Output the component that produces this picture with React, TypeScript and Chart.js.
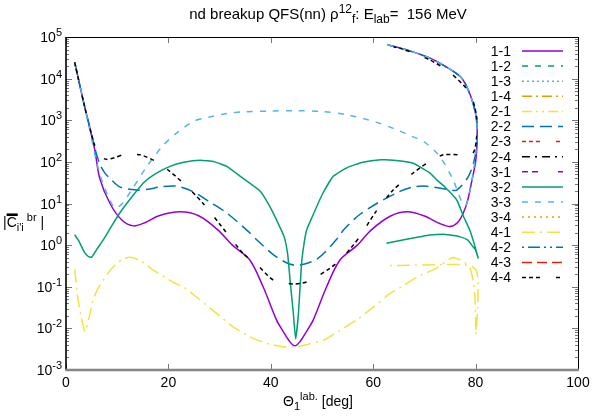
import React, { useEffect, useRef } from "react";
import { Chart, registerables } from "chart.js";

Chart.register(...registerables);

// ---------- axis ticks ----------
const xTickValues = [0, 20, 40, 60, 80, 100];
const yTickExponents = [-3, -2, -1, 0, 1, 2, 3, 4, 5];
const yMinorMultipliers = [2, 3, 4, 5, 6, 7, 8, 9];

// ---------- series labels ----------
const seriesLabels = [
  "1-1", "1-2", "1-3", "1-4",
  "2-1", "2-2", "2-3", "2-4",
  "3-1", "3-2", "3-3", "3-4",
  "4-1", "4-2", "4-3", "4-4",
];

// ---------- data (theta_1 [deg], |C|) ----------
const s11x = [1.7, 2.5, 3.5, 4.5, 5.6, 6.6, 8.6, 10.9, 13.2, 15.5, 18, 22.3, 26, 29.7, 32.5, 35.9, 38.5, 41.1, 42.4, 43.7, 44.7, 45.7, 47.0, 48.3, 50.9, 53.5, 56.9, 59.6, 63.4, 66.7, 70, 73, 75, 76.5, 77.6, 78.5, 79.3, 80.0, 80.3, 80.2, 79.5, 78.3, 77, 74, 71.1, 67, 62.8];
const s11y = [24500, 8900, 2500, 790, 200, 40, 10, 4.0, 2.9, 3.5, 5.0, 6.3, 5.0, 2.3, 1.0, 0.44, 0.1, 0.016, 0.0085, 0.0048, 0.0038, 0.0048, 0.0085, 0.016, 0.1, 0.44, 1.0, 2.3, 5.0, 6.3, 5.0, 3.3, 2.8, 3.5, 5.9, 12.6, 37, 100, 316, 1000, 2570, 6300, 11200, 20000, 31000, 47000, 65000];

const s22x = [1.7, 2.5, 3.5, 4.5, 5.6, 6.6, 7.5, 8.6, 10.5, 13.8, 16, 18.4, 21.6, 24.9, 28, 31.4, 35.3, 37.5, 41.1, 44.7, 49, 52.9, 54.2, 57, 60.7, 65.2, 67.8, 70.4, 74.4, 76.3, 78.6, 79.9, 80.3, 80.1, 79.5, 78.3, 77, 74, 71.1, 67, 62.8];
const s22y = [24500, 8900, 2500, 790, 220, 89, 56, 40, 25, 21, 22, 25, 26, 19, 11, 5.9, 2.3, 1.26, 0.52, 0.33, 0.46, 1.4, 2.3, 5.0, 10, 19.5, 25, 26, 22, 21, 45, 135, 500, 1260, 2570, 6300, 11200, 20000, 31000, 47000, 65000];

const s32x = [1.7, 2.5, 3.5, 4.3, 5.0, 6, 7.3, 8.7, 10.5, 12.5, 15.1, 17.5, 20.3, 23, 26.2, 29, 31.4, 34.6, 37.9, 39.8, 41.5, 42.6, 43.3, 43.75, 44.4, 44.85, 45.4, 46, 46.5, 47, 48, 50, 52.2, 55, 58, 61.5, 64, 67.8, 71.1, 72.4, 74, 76.3, 77.6, 78.9, 79.8, 80.5, 80, 79.5, 78.5, 77, 75, 73.7, 71, 69.1, 66, 62.6];
const s32y = [1.78, 1.26, 0.71, 0.54, 0.51, 0.79, 1.35, 2.6, 5.9, 12.6, 31, 52, 78, 98, 110, 100, 78, 40, 20, 8.5, 3.2, 1.6, 0.6, 0.15, 0.023, 0.0056, 0.023, 0.36, 1.1, 2.3, 4.5, 16, 45, 74, 98, 112, 110, 93, 54, 37, 25, 12.3, 5.0, 2.24, 1.0, 0.49, 0.76, 0.91, 1.32, 1.58, 1.74, 1.82, 1.74, 1.58, 1.35, 1.11];

const s33x = [1.7, 2.5, 3.5, 4.5, 5.5, 6.4, 7.3, 8.5, 9.6, 11, 12.8, 15.8, 19, 21.6, 25, 28.1, 31.4, 35, 39.8, 44.7, 50, 55, 60.7, 64, 67.8, 70, 73, 75.6, 77.3, 78.1, 78.9, 79.6, 80.1, 80.3, 80.1, 79.5, 78.3, 77, 74, 71.1, 67, 62.8];
const s33y = [24500, 8900, 2500, 710, 180, 63, 28, 12.6, 7.8, 10, 21, 78, 250, 490, 950, 1200, 1450, 1600, 1660, 1700, 1620, 1350, 890, 630, 400, 300, 135, 37, 11, 8.9, 20, 63, 200, 590, 1260, 2570, 6300, 11200, 20000, 31000, 47000, 65000];

const s41x = [1.7, 2.3, 3.0, 3.7, 4.4, 5.3, 6.2, 7.3, 8.5, 9.9, 11, 12.5, 14.5, 17.1, 21, 22.9, 26, 29.4, 32.5, 35.9, 39, 42.4, 45, 47.5, 50.3, 53.5, 56.8, 60, 63.3, 65.9, 68.5, 72.4, 75, 75.8, 77.5, 78.9, 79.6, 79.9, 80.1, 80.4, 80.5, 80.1, 79, 77, 72.4, 67, 62.6];
const s41y = [0.26, 0.055, 0.018, 0.0083, 0.016, 0.048, 0.089, 0.145, 0.24, 0.36, 0.46, 0.51, 0.43, 0.25, 0.126, 0.1, 0.05, 0.023, 0.0112, 0.0063, 0.0044, 0.0036, 0.0036, 0.0042, 0.0052, 0.0089, 0.016, 0.032, 0.069, 0.105, 0.17, 0.28, 0.47, 0.5, 0.42, 0.28, 0.126, 0.05, 0.0071, 0.032, 0.145, 0.25, 0.32, 0.34, 0.34, 0.33, 0.32];

const s44x = [1.7, 2.5, 3.5, 4.5, 5.6, 6.5, 7.9, 9.5, 11.2, 14.5, 17.7, 20, 22.9, 26.8, 31.4, 34.6, 37.5, 40.5, 44.4, 47, 51.6, 54, 56.1, 57.4, 60.5, 63.9, 67.8, 70.4, 73.7, 77, 79.5, 80.2, 80.2, 78.9, 75, 71.1, 65.2, 64];
const s44y = [24500, 8900, 2500, 790, 250, 140, 115, 126, 148, 148, 100, 63, 31, 10, 1.95, 0.63, 0.32, 0.145, 0.117, 0.13, 0.28, 0.5, 1.0, 1.6, 6.3, 21, 54, 91, 148, 148, 162, 400, 1230, 4470, 14000, 28000, 54000, 57500];

const emptyX: number[] = [];
const emptyY: number[] = [];

const seriesX = [s11x, emptyX, emptyX, emptyX, emptyX, s22x, emptyX, emptyX, emptyX, s32x, s33x, emptyX, s41x, emptyX, emptyX, s44x];
const seriesY = [s11y, emptyY, emptyY, emptyY, emptyY, s22y, emptyY, emptyY, emptyY, s32y, s33y, emptyY, s41y, emptyY, emptyY, s44y];

// ---------- styles ----------
const PURPLE = "#9400d3";
const GREEN = "#009e73";
const SKY = "#56b4e9";
const ORANGE = "#e69f00";
const YELLOW = "#f0e442";
const BLUE = "#0072b2";
const RED = "#e51e10";
const BLACK = "#000000";

const seriesColors = [PURPLE, GREEN, SKY, ORANGE, YELLOW, BLUE, RED, BLACK, PURPLE, GREEN, SKY, ORANGE, YELLOW, BLUE, RED, BLACK];
const seriesDash: number[][] = [
  [],
  [6, 7],
  [2, 3],
  [10, 4, 2, 4],
  [10, 4, 2, 4, 2, 4],
  [12, 6],
  [4, 3, 4, 3, 4, 16],
  [8, 5, 2, 5],
  [6, 4, 6, 20],
  [],
  [6, 7],
  [2, 4],
  [13, 5, 2, 5],
  [2, 4, 12, 4, 2, 4],
  [10, 5],
  [4, 3, 4, 3, 4, 16],
];
const seriesTension = [0.3, 0, 0, 0, 0, 0.3, 0, 0, 0, 0.15, 0.3, 0, 0.15, 0, 0, 0.25];

const FONT_FAMILY = '"Liberation Sans", Arial, Helvetica, sans-serif';
const BASE = 14;

type Kind = "n" | "sup" | "sub" | "over";
type Part = [string, Kind];

function partFont(kind: Kind, base: number) {
  const size = kind === "sup" || kind === "sub" ? Math.round(base * 0.78) : base;
  return `${size}px ${FONT_FAMILY}`;
}

function measureParts(ctx: CanvasRenderingContext2D, parts: Part[], base: number) {
  let w = 0;
  for (const [t, k] of parts) {
    ctx.font = partFont(k, base);
    w += ctx.measureText(t).width;
  }
  return w;
}

function drawParts(
  ctx: CanvasRenderingContext2D,
  parts: Part[],
  x: number,
  y: number,
  base: number,
  align: "left" | "center" | "right"
) {
  const w = measureParts(ctx, parts, base);
  let cx = align === "right" ? x - w : align === "center" ? x - w / 2 : x;
  ctx.textAlign = "left";
  ctx.textBaseline = "alphabetic";
  for (const [t, k] of parts) {
    ctx.font = partFont(k, base);
    const dy = k === "sup" ? -base * 0.42 : k === "sub" ? base * 0.28 : 0;
    ctx.fillText(t, cx, y + dy);
    const tw = ctx.measureText(t).width;
    if (k === "over") {
      ctx.fillRect(cx, y - base * 0.72 - 3.5, tw + 1, 2.6);
    }
    cx += tw;
  }
}

const titleParts: Part[] = [
  ["nd breakup QFS(nn) \u03c1", "n"],
  ["12", "sup"],
  ["f", "sub"],
  [": E", "n"],
  ["lab", "sub"],
  ["=  156 MeV", "n"],
];
const yLabelParts: Part[] = [
  ["|", "n"],
  ["C", "over"],
  ["i'i", "sub"],
  [" br", "sup"],
  [" |", "n"],
];
const xLabelParts: Part[] = [
  ["\u0398", "n"],
  ["1", "sub"],
  ["lab.", "sup"],
  [" [deg]", "n"],
];

const decorPlugin = {
  id: "decor",
  afterDraw(chart: any) {
    const ctx: CanvasRenderingContext2D = chart.ctx;
    const { left, right, top, bottom } = chart.chartArea;
    const xs = chart.scales.x;
    const ys = chart.scales.y;
    ctx.save();
    ctx.setLineDash([]);

    // ticks
    ctx.strokeStyle = "#777777";
    ctx.lineWidth = 1;
    ctx.beginPath();
    for (const e of yTickExponents) {
      const base = Math.pow(10, e);
      const py = Math.round(ys.getPixelForValue(base)) + 0.5;
      ctx.moveTo(left, py);
      ctx.lineTo(left + 6, py);
      ctx.moveTo(right, py);
      ctx.lineTo(right - 6, py);
      if (e < yTickExponents[yTickExponents.length - 1]) {
        for (const m of yMinorMultipliers) {
          const my = Math.round(ys.getPixelForValue(m * base)) + 0.5;
          ctx.moveTo(left, my);
          ctx.lineTo(left + 3, my);
          ctx.moveTo(right, my);
          ctx.lineTo(right - 3, my);
        }
      }
    }
    for (const v of xTickValues) {
      const px = Math.round(xs.getPixelForValue(v)) + 0.5;
      ctx.moveTo(px, bottom);
      ctx.lineTo(px, bottom - 6);
      ctx.moveTo(px, top);
      ctx.lineTo(px, top + 6);
    }
    ctx.stroke();

    // borders
    ctx.strokeStyle = "#000000";
    ctx.lineWidth = 1;
    ctx.beginPath();
    ctx.moveTo(left, Math.round(top) + 0.5);
    ctx.lineTo(right, Math.round(top) + 0.5);
    ctx.moveTo(Math.round(right) + 0.5, top);
    ctx.lineTo(Math.round(right) + 0.5, bottom);
    ctx.stroke();
    ctx.lineWidth = 1.6;
    ctx.beginPath();
    ctx.moveTo(left, top);
    ctx.lineTo(left, bottom);
    ctx.stroke();
    ctx.strokeStyle = "#858585";
    ctx.lineWidth = 2.6;
    ctx.beginPath();
    ctx.moveTo(left - 0.8, bottom);
    ctx.lineTo(right + 1, bottom);
    ctx.stroke();

    // tick labels
    ctx.fillStyle = "#000000";
    for (const e of yTickExponents) {
      const py = ys.getPixelForValue(Math.pow(10, e));
      drawParts(ctx, [["10", "n"], [String(e), "sup"]], left - 4, py + 5, BASE, "right");
    }
    ctx.font = `${BASE}px ${FONT_FAMILY}`;
    ctx.textAlign = "center";
    ctx.textBaseline = "alphabetic";
    for (const v of xTickValues) {
      const px = xs.getPixelForValue(v);
      ctx.fillText(String(v), px, bottom + 17);
    }

    // title and axis titles
    drawParts(ctx, titleParts, (left + right) / 2 + 6, 19, 15, "center");
    drawParts(ctx, yLabelParts, 3, 227, BASE, "left");
    drawParts(ctx, xLabelParts, (left + right) / 2 - 4, 406, BASE, "center");

    // key
    const keyTextRight = 511;
    const keyLineX0 = 522;
    const keyLineX1 = 563;
    const keyTop = 51;
    const keyStep = 15.1;
    chart.data.datasets.forEach((ds: any, i: number) => {
      const y = keyTop + i * keyStep;
      ctx.fillStyle = "#000000";
      ctx.font = `${BASE}px ${FONT_FAMILY}`;
      ctx.textAlign = "right";
      ctx.textBaseline = "middle";
      ctx.fillText(ds.label, keyTextRight, y + 1);
      ctx.strokeStyle = ds.borderColor;
      ctx.lineWidth = 1.5;
      ctx.setLineDash(ds.borderDash || []);
      ctx.beginPath();
      ctx.moveTo(keyLineX0, y);
      ctx.lineTo(keyLineX1, y);
      ctx.stroke();
    });
    ctx.restore();
  },
};

export default function App() {
  const canvasRef = useRef<HTMLCanvasElement | null>(null);

  useEffect(() => {
    document.body.style.margin = "0";
    const canvas = canvasRef.current;
    if (!canvas) return;
    const datasets = seriesLabels.map((label, i) => ({
      label,
      data: seriesX[i].map((x, j) => ({ x, y: seriesY[i][j] })),
      showLine: true,
      borderColor: seriesColors[i],
      backgroundColor: seriesColors[i],
      borderDash: seriesDash[i],
      borderWidth: 1.5,
      pointRadius: 0,
      pointHoverRadius: 0,
      fill: false,
      tension: seriesTension[i],
      order: seriesLabels.length - i,
    }));
    const chart = new Chart(canvas, {
      type: "scatter",
      data: { datasets },
      options: {
        animation: false,
        responsive: false,
        devicePixelRatio: 1,
        layout: { padding: { left: 66, top: 37, right: 22, bottom: 50 } },
        plugins: {
          legend: { display: false },
          title: { display: false },
          tooltip: { enabled: false },
        },
        events: [],
        scales: {
          x: { type: "linear", min: 0, max: 100, display: false },
          y: { type: "logarithmic", min: 1e-3, max: 1e5, display: false },
        },
      },
      plugins: [decorPlugin],
    } as any);
    return () => chart.destroy();
  }, []);

  return (
    <div style={{ position: "fixed", left: 0, top: 0, width: 600, height: 420, background: "#ffffff" }}>
      <canvas ref={canvasRef} width={600} height={420} style={{ display: "block" }} />
    </div>
  );
}
